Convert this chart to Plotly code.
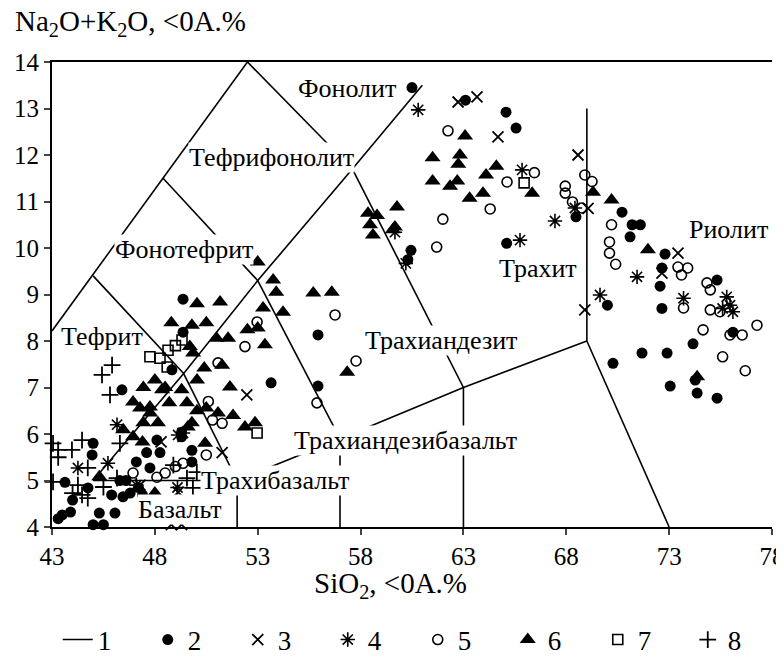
import plotly.graph_objects as go

# ---- TAS boundary lines (SiO2, Na2O+K2O) ----
boundary_segments = [
    [(43, 8.217), (52.5, 14)],
    [(45, 9.4), (49.4, 7.3)],
    [(48.4, 11.5), (53, 9.3)],
    [(52.5, 14), (57.6, 11.7)],
    [(45, 5), (49.4, 7.3), (53, 9.3), (57.6, 11.7), (61, 13.5)],
    [(49.4, 7.3), (52, 5)],
    [(53, 9.3), (57, 5.9)],
    [(57.6, 11.7), (63, 7)],
    [(45, 5), (52, 5), (57, 5.9), (63, 7), (69, 8)],
    [(52, 5), (52, 4)],
    [(57, 5.9), (57, 4)],
    [(63, 7), (63, 4)],
    [(69, 8), (73, 4)],
    [(69, 8), (69, 13)],
]

# ---- series 2 (filled circles) ----
s2_x = [60.5, 63.1, 65.07, 65.56, 65.1, 68.47, 60.45, 60.3,
        70.71, 71.2, 71.6, 71.1, 72.8, 72.65, 72.56, 72.65, 75.33, 70.0, 74.16, 71.68,
        72.9, 70.27, 73.05, 74.27, 74.36, 75.33, 76.1,
        55.93, 53.65, 55.93,
        49.37, 49.37, 48.83, 49.3, 49.8, 49.8, 50.5, 46.4, 45.0, 44.95, 43.63, 43.9,
        44.75, 44.0, 43.5, 43.3, 45.3, 46.06, 45.0, 45.5, 47.1, 47.6, 46.45, 45.9,
        46.3, 47.76, 48.1, 49.3, 46.6, 47.2, 46.8, 47.4, 48.25]
s2_y = [13.45, 13.18, 12.92, 12.58, 10.1, 10.67, 9.95, 9.75,
        10.77, 10.5, 10.5, 10.24, 9.87, 9.57, 9.18, 8.7, 9.31, 8.77, 7.94, 7.74,
        7.74, 7.52, 7.03, 7.16, 6.88, 6.77, 8.19,
        8.13, 7.1, 7.03,
        8.9, 8.19, 7.38, 5.94, 5.65, 5.4, 4.8, 6.95, 5.8, 5.55, 4.96, 4.32,
        4.84, 4.58, 4.26, 4.18, 4.3, 4.3, 4.05, 4.05, 5.4, 5.6, 4.65, 4.69,
        5.0, 5.27, 5.87, 6.04, 5.0, 4.85, 4.73, 4.69, 5.6]

# ---- series 3 (x) ----
s3_x = [62.74, 63.66, 64.68, 68.57, 69.06, 73.43, 72.65, 68.9, 52.47, 51.27,
        48.3, 49.13, 48.8, 49.3, 47.28]
s3_y = [13.14, 13.25, 12.39, 12.0, 10.85, 9.89, 9.46, 8.67, 6.84, 5.6,
        5.83, 4.75, 4.05, 4.05, 4.9]

# ---- series 4 (asterisk) ----
s4_x = [60.8, 65.85, 67.45, 65.75, 68.42, 71.44, 69.64, 73.7, 75.8, 75.96, 76.1, 75.6,
        60.2, 59.67, 46.16, 44.26, 45.72, 49.37, 47.1, 49.13, 49.1]
s4_y = [12.97, 11.68, 10.58, 10.17, 10.86, 9.38, 8.99, 8.92, 8.95, 8.77, 8.63, 8.7,
        9.67, 10.34, 6.2, 5.27, 5.37, 6.02, 4.9, 5.98, 4.85]

# ---- series 5 (open circles) ----
s5_x = [62.25, 65.12, 66.45, 64.3, 62.0, 61.7, 67.95, 67.95, 68.9, 69.25, 68.3, 68.75,
        70.2, 70.1, 70.1, 70.4, 73.43, 73.9, 73.6, 74.84, 75.0, 75.0, 75.47, 73.7,
        74.65, 75.96, 76.55, 77.27, 75.6, 76.7,
        56.76, 52.97, 57.78, 55.88, 52.38, 51.07, 50.6, 50.8, 51.27, 50.5, 49.37,
        49.0, 48.5, 48.1, 46.94]
s5_y = [12.52, 11.42, 11.62, 10.84, 10.62, 10.02, 11.33, 11.18, 11.57, 11.43, 10.99, 10.86,
        10.5, 10.13, 9.89, 9.65, 9.59, 9.57, 9.42, 9.25, 9.1, 8.67, 8.63, 8.71,
        8.24, 8.13, 8.13, 8.34, 7.66, 7.36,
        8.56, 8.41, 7.57, 6.67, 7.88, 7.53, 6.7, 6.3, 6.23, 5.55, 5.37,
        5.3, 5.16, 5.07, 5.16]

# ---- series 6 (filled triangles) ----
s6_x = [63.08, 61.5, 62.83, 62.75, 61.5, 62.35, 62.7, 63.3, 63.95, 64.1, 64.6, 66.34,
        59.77, 59.67, 69.3, 70.2,
        58.36, 58.8, 58.46, 58.6, 59.57,
        53.0, 53.75, 53.9, 55.7, 56.6, 53.26, 54.23, 53.0, 53.35, 57.35,
        71.97, 74.36,
        50.05, 51.17, 48.8, 49.8, 50.5, 52.5, 51.0, 51.56, 49.7, 49.86, 51.27, 50.4,
        50.05, 51.65, 49.3, 48.0, 48.35, 49.56, 50.5, 51.07, 51.8, 52.38, 52.87, 49.8,
        48.7, 48.15, 50.44, 48.0, 47.44, 48.5, 46.94, 47.28, 47.76, 47.77, 46.46, 46.94,
        47.44, 47.4, 45.3, 49.6, 50.05]
s6_y = [12.41, 11.94, 12.0, 11.8, 11.44, 11.33, 11.44, 11.07, 11.18, 11.57, 11.76, 11.18,
        10.88, 10.45, 11.2, 11.03,
        10.75, 10.7, 10.5, 10.28, 10.39,
        9.7, 9.31, 9.05, 9.03, 9.05, 8.71, 8.62, 8.28, 7.92, 7.33,
        9.96, 7.23,
        8.8, 8.84, 8.39, 8.34, 8.39, 8.24, 8.06, 8.06, 7.88, 7.74, 7.48, 7.42,
        7.16, 7.01, 6.95, 7.16, 6.95, 6.67, 6.56, 6.45, 6.4, 6.15, 6.24, 6.24,
        6.67, 6.24, 5.8, 4.73, 7.0, 7.0, 6.69, 6.56, 6.58, 6.45, 6.09, 5.94,
        6.24, 5.83, 5.08, 6.15, 6.5]

# ---- series 7 (open squares) ----
s7_x = [47.76, 48.25, 48.64, 49.0, 49.32, 48.6, 52.97, 65.95]
s7_y = [7.66, 7.63, 7.8, 7.9, 8.02, 7.44, 6.02, 11.4]

# ---- series 8 (plus) ----
s8_x = [45.82, 45.43, 45.92, 43.05, 43.3, 43.97, 44.46, 43.3, 44.74, 46.3, 44.0, 44.46,
        44.74, 44.26, 45.5, 46.16, 43.05, 50.04, 49.56, 49.85, 48.9]
s8_y = [6.84, 7.27, 7.48, 5.8, 5.66, 5.66, 5.87, 5.5, 5.27, 5.8, 4.73, 4.69,
        4.62, 4.9, 4.86, 5.05, 4.97, 5.18, 5.05, 4.84, 5.33]

# ---- region labels ----
region_names = ["Фонолит", "Тефрифонолит", "Фонотефрит", "Тефрит", "Трахиандезит",
                "Трахит", "Риолит", "Трахиандезибазальт", "Трахибазальт", "Базальт"]
region_x = [57.34, 53.65, 49.42, 45.43, 61.9, 66.63, 75.9, 60.2, 53.85, 49.22]
region_y = [13.44, 11.94, 9.96, 8.09, 8.02, 9.57, 10.39, 5.87, 5.0, 4.37]

x_ticks = [43, 48, 53, 58, 63, 68, 73, 78]
y_ticks = list(range(4, 15))

FONT = "Liberation Serif"

bx, by = [], []
for seg in boundary_segments:
    for (px, py) in seg:
        bx.append(px)
        by.append(py)
    bx.append(None)
    by.append(None)

fig = go.Figure()
fig.add_trace(go.Scatter(x=bx, y=by, mode="lines", name="1",
                         line=dict(color="black", width=1.6)))

def add_series(name, xs, ys, symbol, size, lw=1.5):
    fig.add_trace(go.Scatter(
        x=xs, y=ys, mode="markers", name=name, cliponaxis=False,
        marker=dict(symbol=symbol, size=size, color="black",
                    line=dict(color="black", width=lw))))

add_series("2", s2_x, s2_y, "circle", 11, 0)
add_series("3", s3_x, s3_y, "x-thin", 11, 1.8)
add_series("4", s4_x, s4_y, "asterisk", 12, 1.6)
add_series("5", s5_x, s5_y, "circle-open", 10, 1.6)
add_series("6", s6_x, s6_y, "triangle-up", 14, 0)
add_series("7", s7_x, s7_y, "square-open", 10, 1.6)
add_series("8", s8_x, s8_y, "cross-thin", 12, 1.8)

for name, xx, yy in zip(region_names, region_x, region_y):
    opaque = name not in ("Фонолит", "Риолит", "Тефрит", "Трахит")
    fig.add_annotation(x=xx, y=yy, text=name, showarrow=False,
                       font=dict(family=FONT, size=26, color="black"),
                       bgcolor="white" if opaque else "rgba(255,255,255,0)",
                       borderpad=0)

fig.add_annotation(xref="paper", yref="paper", x=-0.054, y=1.084, xanchor="left", yanchor="middle",
                   text="Na<sub>2</sub>O+K<sub>2</sub>O, <0A.%", showarrow=False,
                   font=dict(family=FONT, size=29, color="black"))
fig.add_annotation(xref="paper", yref="paper", x=0.47, y=-0.125, xanchor="center", yanchor="middle",
                   text="SiO<sub>2</sub>, <0A.%", showarrow=False,
                   font=dict(family=FONT, size=29, color="black"))

# page body adds an 8px offset, so the figure is 8px smaller on each axis
fig.update_layout(
    width=776, height=652,
    margin=dict(l=44, r=12, t=54, b=133, autoexpand=False),
    paper_bgcolor="white", plot_bgcolor="white",
    font=dict(family=FONT, size=24, color="black"),
    showlegend=True,
    legend=dict(orientation="h", x=0.008, xanchor="left", y=-0.243, yanchor="middle",
                font=dict(family=FONT, size=27, color="black"),
                entrywidth=45, itemwidth=30, tracegroupgap=0),
    xaxis=dict(range=[43, 78], tickvals=x_ticks, ticks="outside", ticklen=6, tickwidth=2,
               showline=True, linewidth=2, linecolor="black", mirror=True,
               ticklabeloverflow="allow",
               showgrid=False, zeroline=False, tickfont=dict(family=FONT, size=25)),
    yaxis=dict(range=[4, 14], tickvals=y_ticks, ticks="outside", ticklen=6, tickwidth=2,
               showline=True, linewidth=2, linecolor="black",
               showgrid=False, zeroline=False, tickfont=dict(family=FONT, size=25)),
)

fig.write_html("out.html")
